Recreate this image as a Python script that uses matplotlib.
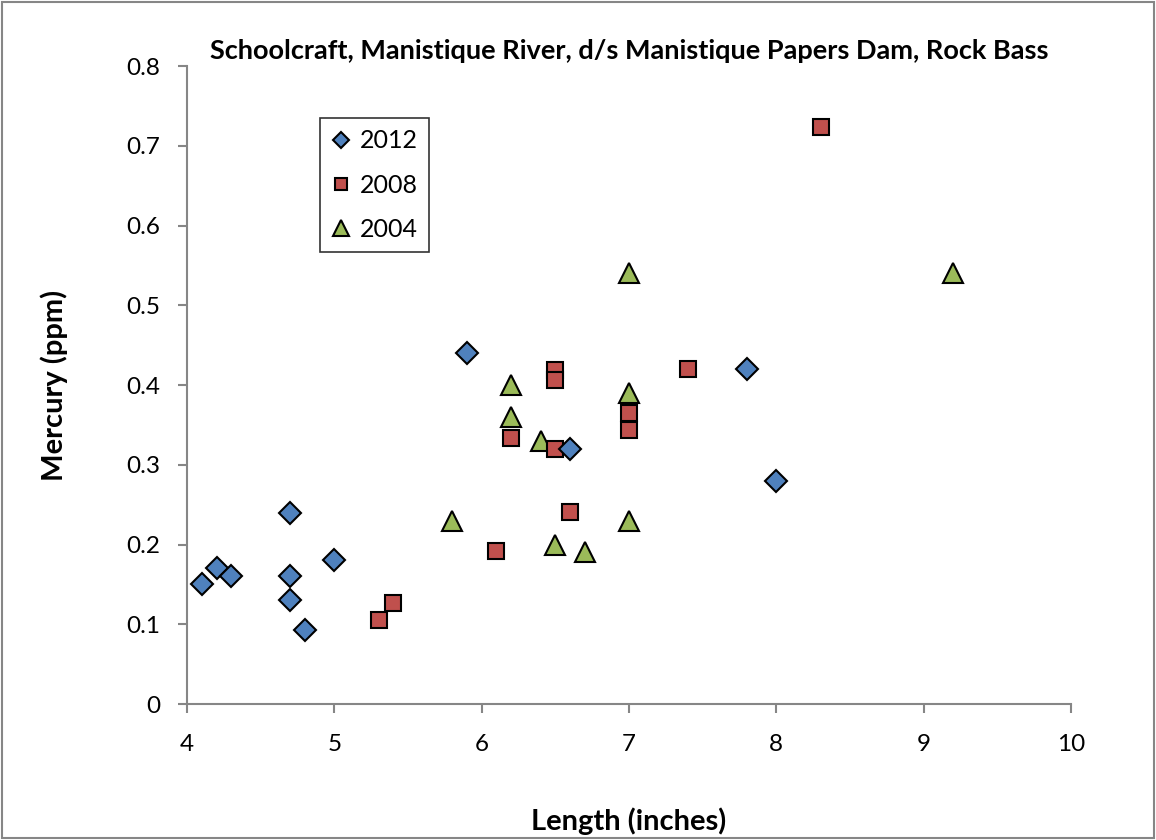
import matplotlib.pyplot as plt
from matplotlib.patches import Rectangle

plt.rcParams['font.family'] = ['Lato', 'DejaVu Sans']

# 2012 (diamonds)
len_2012 = [4.1, 4.2, 4.3, 4.7, 4.7, 4.7, 4.8, 5.0, 5.9, 6.6, 7.8, 8.0]
hg_2012 = [0.15, 0.17, 0.16, 0.24, 0.16, 0.13, 0.093, 0.18, 0.44, 0.32, 0.42, 0.28]

# 2008 (squares)
len_2008 = [5.3, 5.4, 6.1, 6.2, 6.5, 6.5, 6.5, 6.6, 7.0, 7.0, 7.4, 8.3]
hg_2008 = [0.105, 0.127, 0.192, 0.334, 0.419, 0.406, 0.32, 0.241, 0.365, 0.344, 0.42, 0.723]

# 2004 (triangles)
len_2004 = [5.8, 6.2, 6.2, 6.4, 6.5, 6.7, 7.0, 7.0, 7.0, 9.2]
hg_2004 = [0.23, 0.40, 0.36, 0.33, 0.20, 0.19, 0.54, 0.39, 0.23, 0.54]

fig = plt.figure(figsize=(11.56, 8.4), dpi=100)
ax = fig.add_axes([0.1618, 0.1619, 0.9265 - 0.1618, 0.9214 - 0.1619])

h04, = ax.plot(len_2004, hg_2004, linestyle='none', marker='^', markersize=15,
               markerfacecolor='#9BBB59', markeredgecolor='black', markeredgewidth=1.5,
               label='2004', zorder=3)
h08, = ax.plot(len_2008, hg_2008, linestyle='none', marker='s', markersize=11.5,
               markerfacecolor='#C0504D', markeredgecolor='black', markeredgewidth=1.5,
               label='2008', zorder=4)
h12, = ax.plot(len_2012, hg_2012, linestyle='none', marker='D', markersize=11,
               markerfacecolor='#4F81BD', markeredgecolor='black', markeredgewidth=1.5,
               label='2012', zorder=5)

ax.set_xlim(4, 10)
ax.set_ylim(0, 0.8)
ax.set_xticks([4, 5, 6, 7, 8, 9, 10])
ax.set_yticks([0, 0.1, 0.2, 0.3, 0.4, 0.5, 0.6, 0.7, 0.8])
ax.set_yticklabels(['0', '0.1', '0.2', '0.3', '0.4', '0.5', '0.6', '0.7', '0.8'])

for s in ['top', 'right']:
    ax.spines[s].set_visible(False)
for s in ['left', 'bottom']:
    ax.spines[s].set_color('#868686')
    ax.spines[s].set_linewidth(1.5)
ax.tick_params(direction='out', length=6.5, width=1.5, color='#868686',
               labelsize=17.5)
ax.tick_params(axis='y', pad=13)
ax.tick_params(axis='x', pad=15)

ax.set_title('Schoolcraft, Manistique River, d/s Manistique Papers Dam, Rock Bass',
             fontsize=19.5, fontweight='bold', pad=5)
ax.set_xlabel('Length (inches)', fontsize=21, fontweight='bold', labelpad=38)
ax.set_ylabel('Mercury (ppm)', fontsize=21, fontweight='bold', labelpad=42)

leg = ax.legend(handles=[h12, h08, h04], loc='upper left',
                bbox_to_anchor=(0.1505, 0.9185), borderaxespad=0, fontsize=18,
                frameon=True, fancybox=False, edgecolor='black', handlelength=0.8,
                handletextpad=0.35, labelspacing=0.85, borderpad=0.45,
                markerscale=0.75)
leg.get_frame().set_linewidth(1.2)

fig.patches.append(Rectangle((0.002, 0.002), 0.996, 0.996, transform=fig.transFigure,
                             fill=False, edgecolor='#868686', linewidth=1.5))

fig.savefig('out.png', dpi=100)
